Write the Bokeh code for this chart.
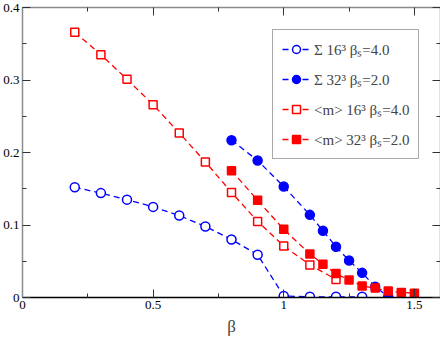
from bokeh.plotting import figure
from bokeh.models import (Range1d, LinearAxis, FixedTicker, NumeralTickFormatter,
                          CustomJSTickFormatter, Legend, LegendItem)
from bokeh.embed import file_html
from bokeh.resources import INLINE

# ---- data ----
beta_s16 = [0.2, 0.3, 0.4, 0.5, 0.6, 0.7, 0.8, 0.9, 1.0, 1.1, 1.2, 1.3]
sigma_16 = [0.152, 0.144, 0.135, 0.125, 0.113, 0.098, 0.080, 0.059, 0.002, 0.001, 0.001, 0.001]

beta_s32 = [0.8, 0.9, 1.0, 1.1, 1.15, 1.2, 1.25, 1.3, 1.35, 1.4]
sigma_32 = [0.217, 0.189, 0.153, 0.114, 0.092, 0.070, 0.051, 0.034, 0.015, 0.001]

beta_m16 = [0.2, 0.3, 0.4, 0.5, 0.6, 0.7, 0.8, 0.9, 1.0, 1.1, 1.2]
m_16 = [0.366, 0.335, 0.301, 0.266, 0.227, 0.187, 0.145, 0.105, 0.071, 0.045, 0.025]

beta_m32 = [0.8, 0.9, 1.0, 1.1, 1.15, 1.2, 1.25, 1.3, 1.35, 1.4, 1.45, 1.5]
m_32 = [0.175, 0.134, 0.094, 0.060, 0.046, 0.033, 0.024, 0.016, 0.013, 0.009, 0.007, 0.006]
m_32_last_err = 0.006

x_ticks = [0, 0.5, 1, 1.5]
x_minor = [0.25, 0.75, 1.25]
y_ticks = [0, 0.1, 0.2, 0.3, 0.4]
y_minor = [0.05, 0.15, 0.25, 0.35]

labels = ["Σ 16³ βₛ=4.0", "Σ 32³ βₛ=2.0", "<m> 16³ βₛ=4.0", "<m> 32³ βₛ=2.0"]

FONT = "Liberation Serif"
BLUE = "#0000ff"
RED = "#ff0000"
GRAY = "#8c8c8c"

p = figure(width=440, height=338, output_backend="svg", toolbar_location=None,
           x_range=Range1d(0, 1.6), y_range=Range1d(0, 0.4),
           min_border_left=4, min_border_right=0, min_border_top=7, min_border_bottom=0)
p.outline_line_color = None
p.xgrid.visible = False
p.ygrid.visible = False
p.background_fill_color = "white"

def style_axis(ax, line_color, labels_on):
    ax.axis_line_color = line_color
    ax.axis_line_width = 1.5
    ax.major_tick_in = 8
    ax.major_tick_out = 0
    ax.minor_tick_in = 4
    ax.minor_tick_out = 0
    ax.major_tick_line_color = "#333333"
    ax.minor_tick_line_color = "#333333"
    ax.major_label_text_font = FONT
    ax.major_label_text_font_size = "13px"
    ax.major_label_text_color = "black"
    ax.major_label_standoff = 3
    if not labels_on:
        ax.formatter = CustomJSTickFormatter(code="return ''")
        ax.major_label_standoff = 0
        ax.major_label_text_font_size = "1px"

xb = p.xaxis[0]
xb.ticker = FixedTicker(ticks=x_ticks, minor_ticks=x_minor)
xb.formatter = NumeralTickFormatter(format="0.[0]")
style_axis(xb, "black", True)
xb.axis_label = "β"
xb.axis_label_text_font = FONT
xb.axis_label_text_font_style = "normal"
xb.axis_label_text_font_size = "17px"
xb.axis_label_standoff = 5

yl = p.yaxis[0]
yl.ticker = FixedTicker(ticks=y_ticks, minor_ticks=y_minor)
yl.formatter = NumeralTickFormatter(format="0.[0]")
style_axis(yl, GRAY, True)

xt = LinearAxis(ticker=FixedTicker(ticks=x_ticks, minor_ticks=x_minor))
style_axis(xt, GRAY, False)
p.add_layout(xt, "above")
yr = LinearAxis(ticker=FixedTicker(ticks=y_ticks, minor_ticks=y_minor))
style_axis(yr, GRAY, False)
p.add_layout(yr, "right")

DASH = "6 4"
l1 = p.line(beta_s16, sigma_16, line_color=BLUE, line_dash=DASH, line_width=1.3)
s1 = p.scatter(beta_s16, sigma_16, marker="circle", size=9, fill_color="white",
               line_color=BLUE, line_width=1.5)
l2 = p.line(beta_s32, sigma_32, line_color=BLUE, line_dash=DASH, line_width=1.3)
s2 = p.scatter(beta_s32, sigma_32, marker="circle", size=9, fill_color=BLUE,
               line_color=BLUE, line_width=1.5)
l3 = p.line(beta_m16, m_16, line_color=RED, line_dash=DASH, line_width=1.3)
s3 = p.scatter(beta_m16, m_16, marker="square", size=8, fill_color="white",
               line_color=RED, line_width=1.5)
l4 = p.line(beta_m32, m_32, line_color=RED, line_dash=DASH, line_width=1.3)
s4 = p.scatter(beta_m32, m_32, marker="square", size=8, fill_color=RED,
               line_color=RED, line_width=1.5)
p.segment(x0=[beta_m32[-1]], y0=[m_32[-1] - m_32_last_err],
          x1=[beta_m32[-1]], y1=[m_32[-1] + m_32_last_err],
          line_color="black", line_width=1)

legend = Legend(items=[LegendItem(label=labels[0], renderers=[l1, s1]),
                       LegendItem(label=labels[1], renderers=[l2, s2]),
                       LegendItem(label=labels[2], renderers=[l3, s3]),
                       LegendItem(label=labels[3], renderers=[l4, s4])],
                location=(250, 138))
legend.label_text_font = FONT
legend.label_text_font_size = "15px"
legend.glyph_width = 28
legend.glyph_height = 20
legend.label_height = 20
legend.label_standoff = 4
legend.spacing = 10
legend.padding = 9
legend.margin = 0
legend.border_line_color = "#555555"
legend.border_line_width = 1.2
legend.background_fill_color = "white"
legend.background_fill_alpha = 1.0
p.add_layout(legend, "center")

open("out.html", "w").write(file_html(p, INLINE))
